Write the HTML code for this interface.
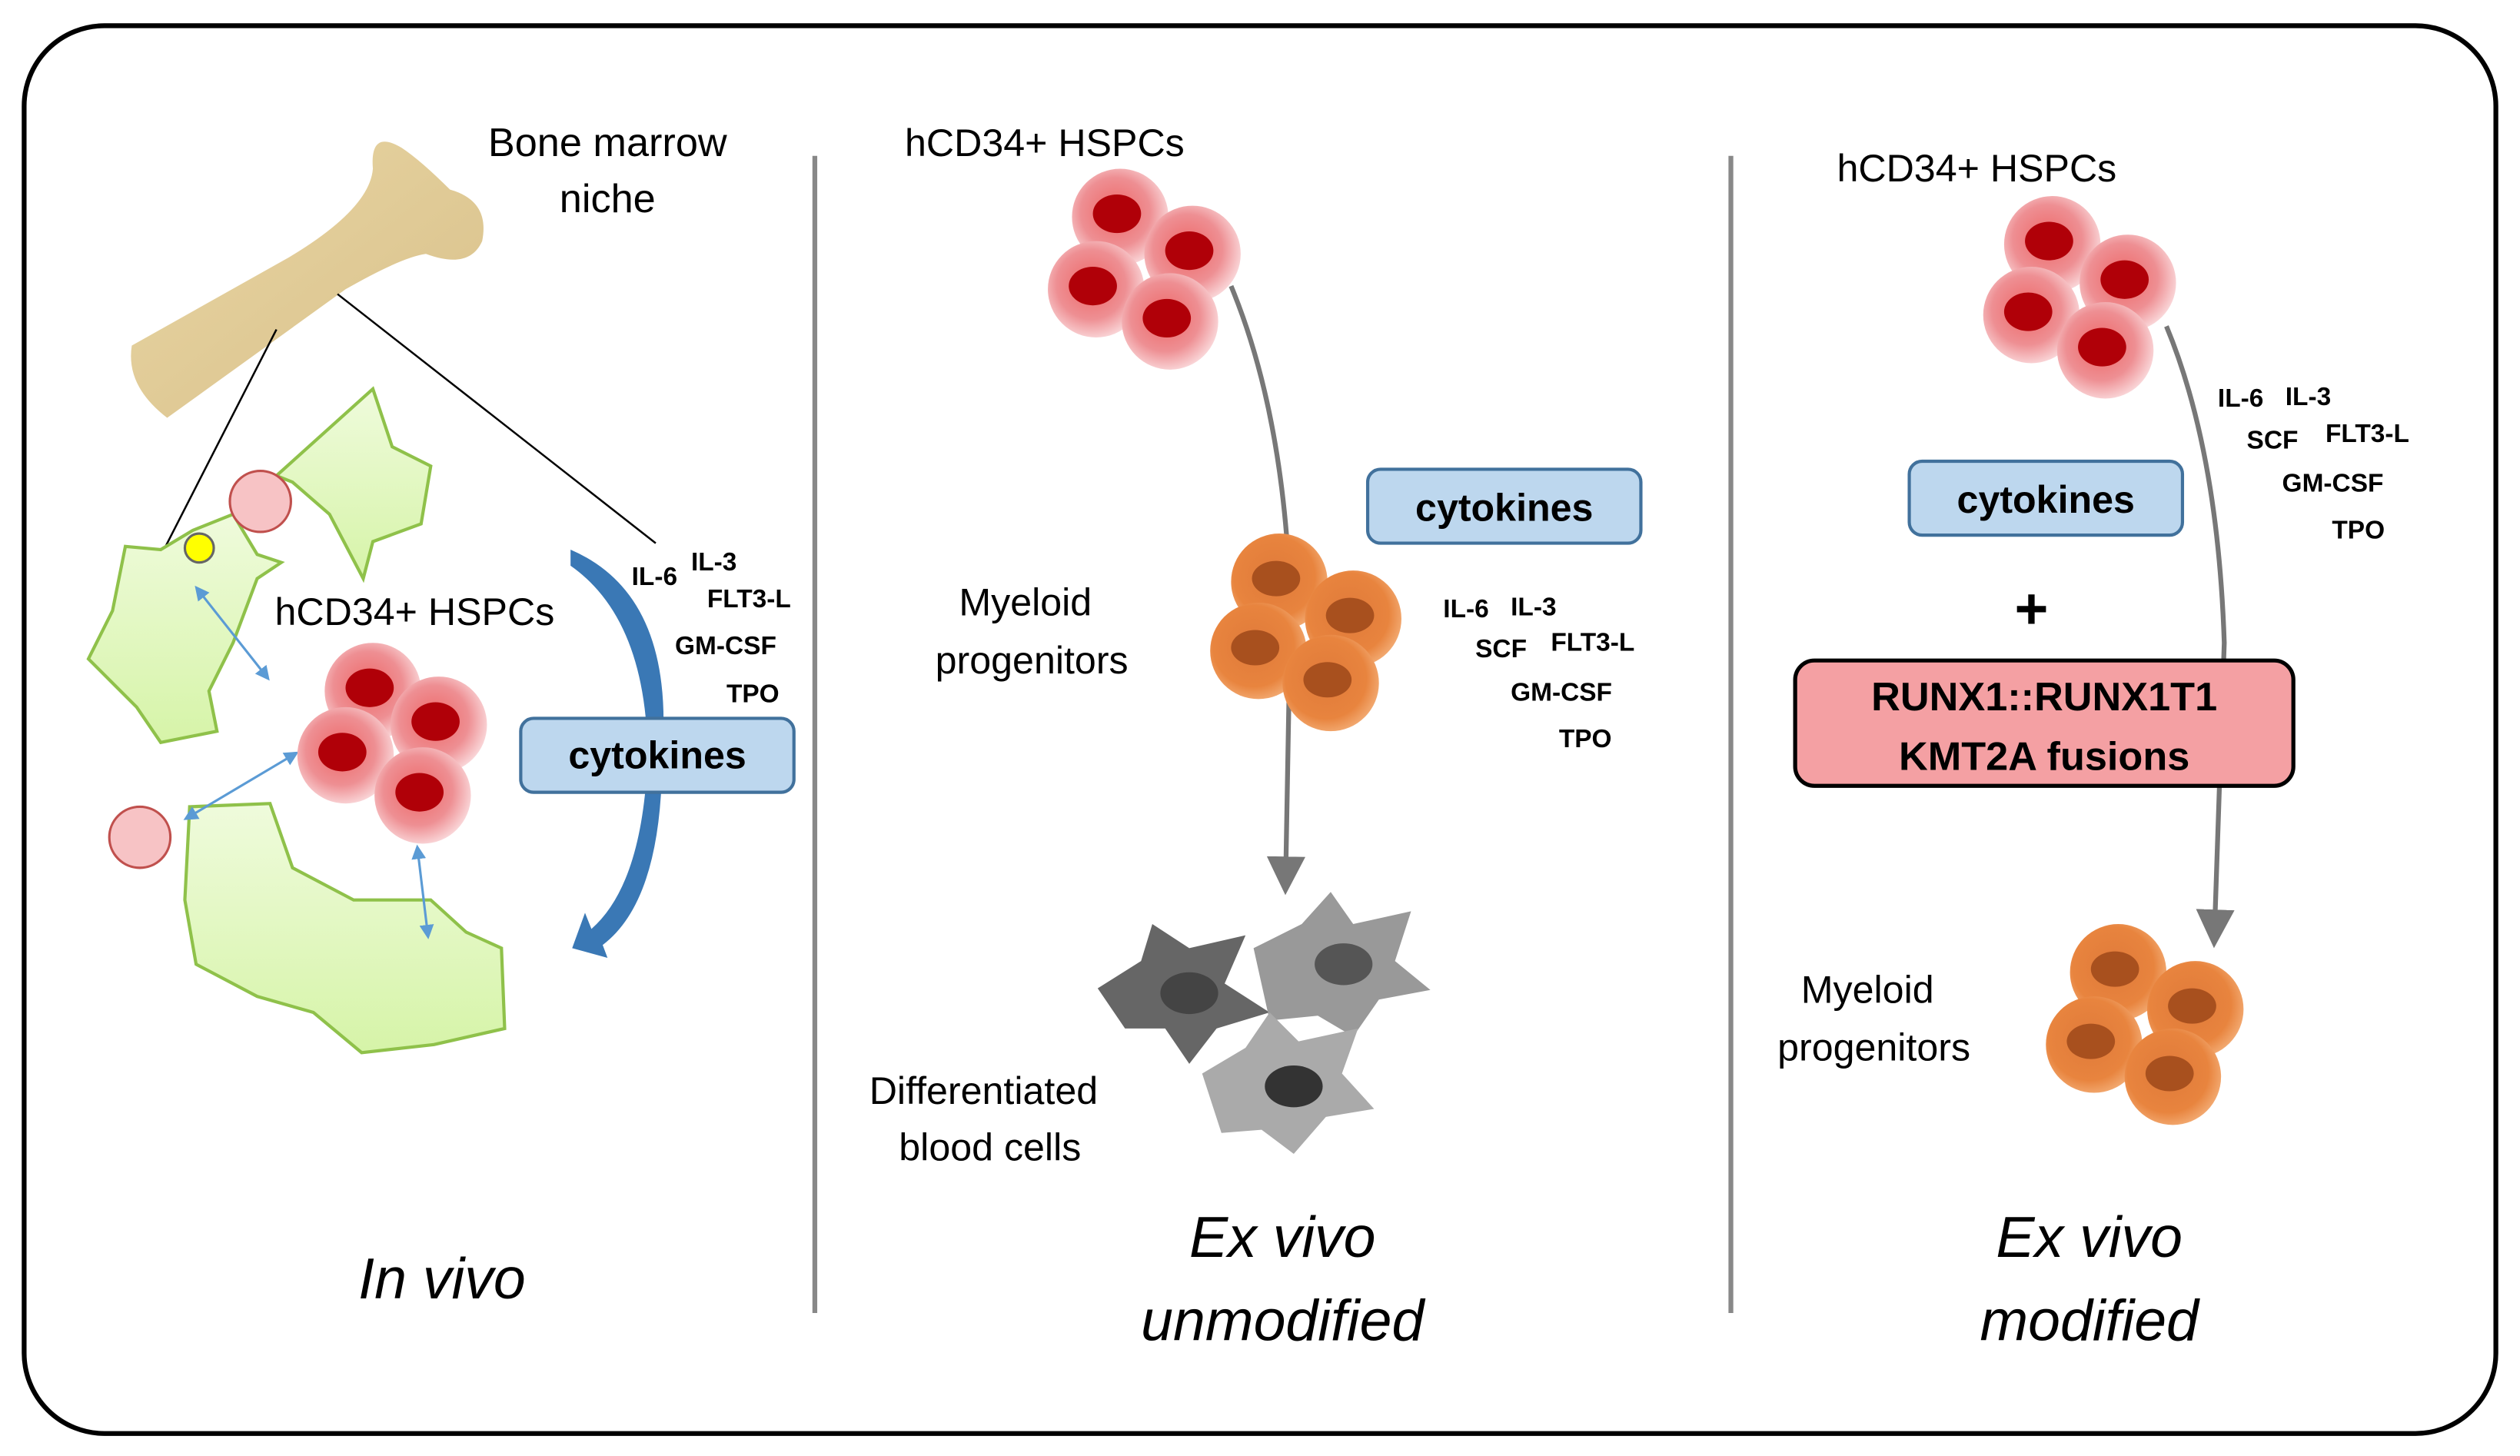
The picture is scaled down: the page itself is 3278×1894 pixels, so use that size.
<!DOCTYPE html>
<html><head><meta charset="utf-8"><style>html,body{margin:0;padding:0;background:#fff}svg{display:block}</style></head>
<body>
<svg width="3278" height="1894" viewBox="0 0 1568 906" xmlns="http://www.w3.org/2000/svg" font-family="'Liberation Sans', 'DejaVu Sans', sans-serif">
<defs>
<radialGradient id="rc" cx="0.45" cy="0.45" r="0.6"><stop offset="0" stop-color="#e66"/><stop offset="0.6" stop-color="#ee8f93"/><stop offset="1" stop-color="#fbe0e2"/></radialGradient>
<radialGradient id="oc" cx="0.45" cy="0.45" r="0.6"><stop offset="0" stop-color="#e07a3a"/><stop offset="0.7" stop-color="#e8843e"/><stop offset="1" stop-color="#f4b07a"/></radialGradient>
<linearGradient id="gr" x1="0" y1="0" x2="0" y2="1"><stop offset="0" stop-color="#effbdc"/><stop offset="1" stop-color="#d6f4a8"/></linearGradient>
<linearGradient id="bn" x1="0" y1="0" x2="1" y2="1"><stop offset="0" stop-color="#e9d6a4"/><stop offset="1" stop-color="#d8c08a"/></linearGradient>
<g id="red"><circle r="30" fill="url(#rc)"/><ellipse cx="-2" cy="-2" rx="15" ry="12" fill="#b00008"/></g>
<g id="org"><circle r="30" fill="url(#oc)"/><ellipse cx="-2" cy="-2" rx="15" ry="11" fill="#a8501e"/></g>
<marker id="ga" markerWidth="8" markerHeight="8" refX="4" refY="4" orient="auto"><path d="M0,0 L8,4 L0,8 z" fill="#777"/></marker>
<marker id="ba" markerWidth="6" markerHeight="6" refX="3" refY="3" orient="auto-start-reverse"><path d="M0,0 L6,3 L0,6 z" fill="#5b9bd5"/></marker>
</defs>
<rect x="15" y="16" width="1538" height="876" rx="50" fill="#fff" stroke="#000" stroke-width="3"/>
<line x1="507" y1="97" x2="507" y2="817" stroke="#888" stroke-width="3"/>
<line x1="1077" y1="97" x2="1077" y2="817" stroke="#888" stroke-width="3"/>

<!-- bone -->
<path d="M82,215 Q78,240 104,260 L215,180 Q250,160 265,158 Q292,168 300,150 Q305,125 280,118 Q262,100 250,92 Q230,80 232,105 Q230,130 180,160 Z" fill="url(#bn)"/>
<line x1="172" y1="205" x2="103" y2="340" stroke="#000" stroke-width="1.2"/>
<line x1="210" y1="183" x2="408" y2="338" stroke="#000" stroke-width="1.2"/>
<text x="378" y="97" font-size="25" text-anchor="middle">Bone marrow</text>
<text x="378" y="132" font-size="25" text-anchor="middle">niche</text>

<!-- green cells -->
<path d="M78,340 L100,342 L120,330 L145,320 L160,345 L175,350 L160,360 L145,400 L130,430 L135,455 L100,462 L85,440 L55,410 L70,380 Z" fill="url(#gr)" stroke="#8fc14a" stroke-width="2"/>
<path d="M172,296 L232,242 L244,278 L268,290 L262,326 L232,337 L226,360 L205,320 L182,300 Z" fill="url(#gr)" stroke="#8fc14a" stroke-width="2"/>
<path d="M118,502 L168,500 L182,540 L220,560 L268,560 L290,580 L312,590 L314,640 L270,650 L225,655 L195,630 L160,620 L122,600 L115,560 Z" fill="url(#gr)" stroke="#8fc14a" stroke-width="2"/>
<circle cx="162" cy="312" r="19" fill="#f7c3c5" stroke="#c0504d" stroke-width="1.5"/>
<circle cx="87" cy="521" r="19" fill="#f7c3c5" stroke="#c0504d" stroke-width="1.5"/>
<circle cx="124" cy="341" r="9" fill="#ff0" stroke="#666" stroke-width="1.5"/>
<line x1="124" y1="368" x2="165" y2="420" stroke="#5b9bd5" stroke-width="1.5" marker-start="url(#ba)" marker-end="url(#ba)"/>
<line x1="118" y1="508" x2="182" y2="470" stroke="#5b9bd5" stroke-width="1.5" marker-start="url(#ba)" marker-end="url(#ba)"/>
<line x1="260" y1="530" x2="266" y2="580" stroke="#5b9bd5" stroke-width="1.5" marker-start="url(#ba)" marker-end="url(#ba)"/>
<text x="258" y="389" font-size="24" text-anchor="middle">hCD34+ HSPCs</text>
<use href="#red" x="232" y="430"/><use href="#red" x="273" y="451"/><use href="#red" x="215" y="470"/><use href="#red" x="263" y="495"/>
<path d="M355,342 Q420,370 412,470 Q412,560 375,588 L378,596 L356,590 L364,568 L368,578 Q400,550 403,470 Q402,385 355,352 Z" fill="#3a78b5"/>
<rect x="324" y="447" width="170" height="46" rx="8" fill="#bdd7ee" stroke="#41719c" stroke-width="2"/>
<text x="409" y="478" font-size="24" font-weight="bold" text-anchor="middle">cytokines</text>
<g font-size="16" font-weight="bold">
<text x="393" y="364">IL-6</text><text x="430" y="355">IL-3</text><text x="440" y="378">FLT3-L</text><text x="420" y="407">GM-CSF</text><text x="452" y="437">TPO</text></g>
<text x="275" y="808" font-size="36" font-style="italic" text-anchor="middle">In vivo</text>

<!-- middle -->
<text x="650" y="97" font-size="24" text-anchor="middle">hCD34+ HSPCs</text>
<use href="#red" x="697" y="135"/><use href="#red" x="742" y="158"/><use href="#red" x="682" y="180"/><use href="#red" x="728" y="200"/>
<path d="M766,178 Q800,260 803,380 L800,545" fill="none" stroke="#777" stroke-width="3" marker-end="url(#ga)"/>
<rect x="851" y="292" width="170" height="46" rx="8" fill="#bdd7ee" stroke="#41719c" stroke-width="2"/>
<text x="936" y="324" font-size="24" font-weight="bold" text-anchor="middle">cytokines</text>
<text x="638" y="383" font-size="24" text-anchor="middle">Myeloid</text>
<text x="642" y="419" font-size="24" text-anchor="middle">progenitors</text>
<use href="#org" x="796" y="362"/><use href="#org" x="842" y="385"/><use href="#org" x="783" y="405"/><use href="#org" x="828" y="425"/>
<g font-size="16" font-weight="bold">
<text x="898" y="384">IL-6</text><text x="940" y="383">IL-3</text><text x="918" y="409">SCF</text><text x="965" y="405">FLT3-L</text><text x="940" y="436">GM-CSF</text><text x="970" y="465">TPO</text></g>
<path d="M683,615 L710,598 L717,575 L740,590 L775,582 L762,612 L790,630 L757,640 L740,662 L725,640 L700,640 Z" fill="#666"/>
<path d="M780,590 L810,575 L828,555 L842,575 L878,567 L868,598 L890,616 L858,622 L842,645 L820,632 L790,635 Z" fill="#999"/>
<path d="M748,668 L775,652 L790,630 L808,648 L845,640 L835,668 L855,690 L825,695 L805,718 L785,703 L760,705 Z" fill="#aaa"/>
<ellipse cx="740" cy="618" rx="18" ry="13" fill="#444"/><ellipse cx="836" cy="600" rx="18" ry="13" fill="#555"/><ellipse cx="805" cy="676" rx="18" ry="13" fill="#333"/>
<text x="612" y="687" font-size="24" text-anchor="middle">Differentiated</text>
<text x="616" y="722" font-size="24" text-anchor="middle">blood cells</text>
<text x="798" y="782" font-size="36" font-style="italic" text-anchor="middle">Ex vivo</text>
<text x="798" y="834" font-size="36" font-style="italic" text-anchor="middle">unmodified</text>

<!-- right -->
<text x="1230" y="113" font-size="24" text-anchor="middle">hCD34+ HSPCs</text>
<use href="#red" x="1277" y="152"/><use href="#red" x="1324" y="176"/><use href="#red" x="1264" y="196"/><use href="#red" x="1310" y="218"/>
<path d="M1348,203 Q1380,280 1384,400 L1378,578" fill="none" stroke="#777" stroke-width="3" marker-end="url(#ga)"/>
<g font-size="16" font-weight="bold">
<text x="1380" y="253">IL-6</text><text x="1422" y="252">IL-3</text><text x="1398" y="279">SCF</text><text x="1447" y="275">FLT3-L</text><text x="1420" y="306">GM-CSF</text><text x="1451" y="335">TPO</text></g>
<rect x="1188" y="287" width="170" height="46" rx="8" fill="#bdd7ee" stroke="#41719c" stroke-width="2"/>
<text x="1273" y="319" font-size="24" font-weight="bold" text-anchor="middle">cytokines</text>
<text x="1264" y="391" font-size="36" font-weight="bold" text-anchor="middle">+</text>
<rect x="1117" y="411" width="310" height="78" rx="12" fill="#f4a0a3" stroke="#000" stroke-width="2.5"/>
<text x="1272" y="442" font-size="25" font-weight="bold" text-anchor="middle">RUNX1::RUNX1T1</text>
<text x="1272" y="479" font-size="25" font-weight="bold" text-anchor="middle">KMT2A fusions</text>
<text x="1162" y="624" font-size="24" text-anchor="middle">Myeloid</text>
<text x="1166" y="660" font-size="24" text-anchor="middle">progenitors</text>
<use href="#org" x="1318" y="605"/><use href="#org" x="1366" y="628"/><use href="#org" x="1303" y="650"/><use href="#org" x="1352" y="670"/>
<text x="1300" y="782" font-size="36" font-style="italic" text-anchor="middle">Ex vivo</text>
<text x="1300" y="834" font-size="36" font-style="italic" text-anchor="middle">modified</text>
</svg>
</body></html>
